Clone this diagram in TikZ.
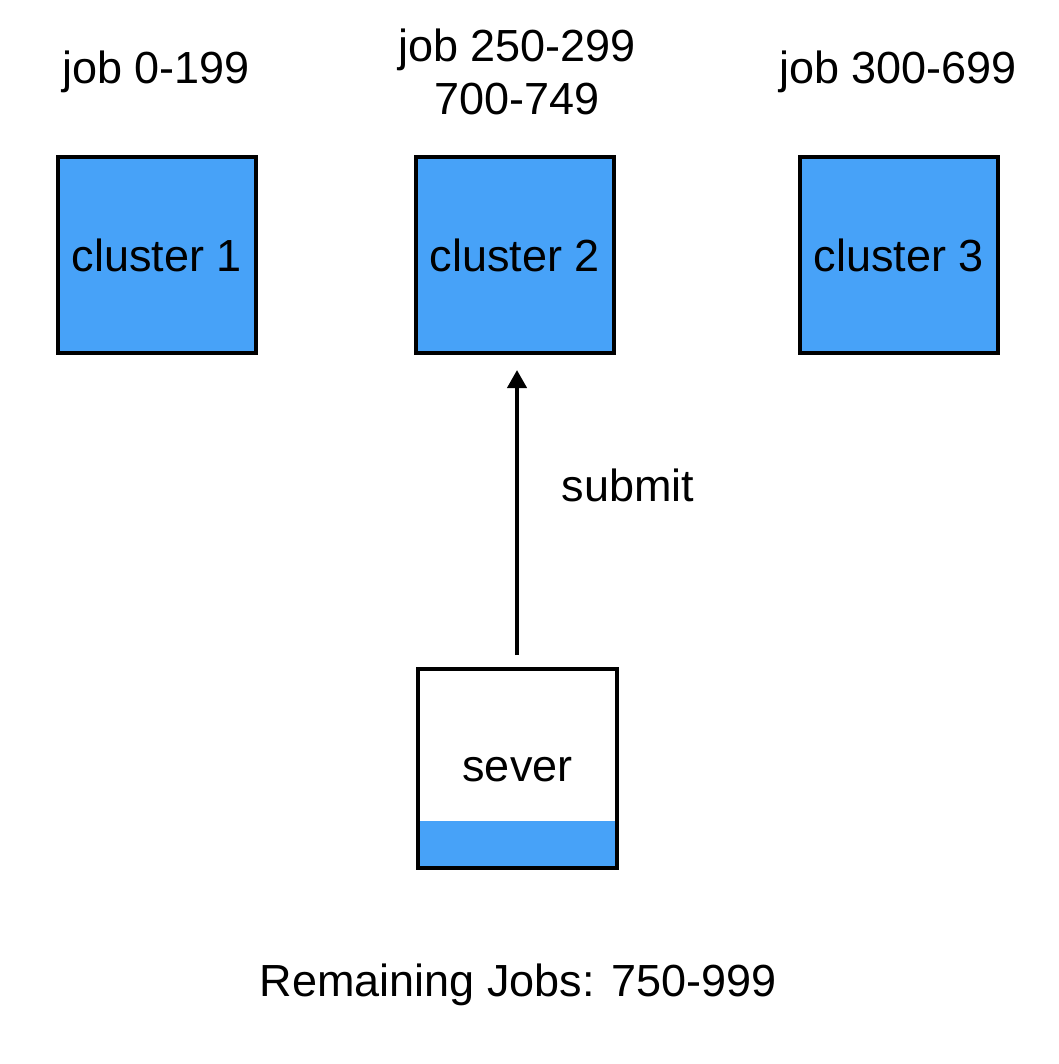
\documentclass[tikz,border=0pt]{standalone}
\usepackage{fontspec}
\setmainfont{Liberation Sans}
\usetikzlibrary{arrows.meta}
\definecolor{boxblue}{HTML}{47A2F8}
\begin{document}
\begin{tikzpicture}[x=1pt,y=-1pt,
  lbl/.style={font=\fontsize{45}{53}\selectfont, inner sep=0pt, align=center},
  cluster/.style={draw=black, line width=4pt, fill=boxblue, minimum width=198pt, minimum height=196pt, inner sep=0pt, font=\fontsize{45}{53}\selectfont}]
\useasboundingbox (0,0) rectangle (1058,1064);
\fill[white] (0,0) rectangle (1058,1064);
\node[cluster] (c1) at (157,255) {cluster 1};
\node[cluster] (c2) at (515,255) {cluster 2};
\node[cluster] (c3) at (899,255) {cluster 3};
\node[lbl] (t1) at (156,72) {job 0-199};
\node[lbl] (t2) at (517,72) {job 250-299\\700-749};
\node[lbl] (t3) at (898,72) {job 300-699};
% server
\coordinate (sTL) at (418,669);
\coordinate (sBR) at (617,868);
\fill[boxblue] (418,821) rectangle (617,868);
\draw[line width=4pt] (sTL) rectangle (sBR);
\node[lbl] (srv) at (517.5,770) {sever};
\coordinate (sv) at (517,655);
\coordinate (tip) at (517,370);
\draw[line width=4pt, -{Triangle[length=18pt,width=19pt]}] (sv) -- (tip);
\node[lbl] (sub) at (628,485) {submit};
\node[lbl] (rem) at (518,985) {Remaining Jobs: 750-999};
\end{tikzpicture}
\end{document}
